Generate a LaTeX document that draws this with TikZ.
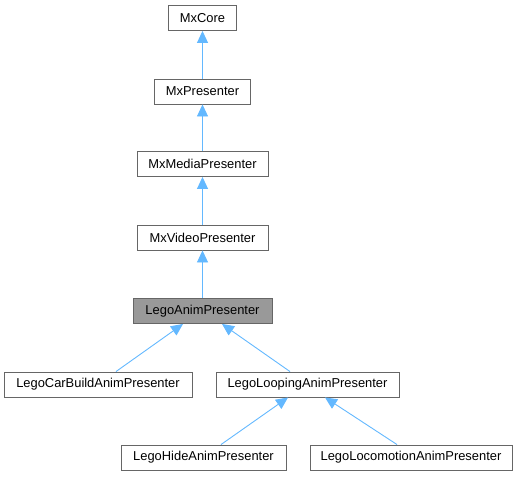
\documentclass[tikz,border=0pt]{standalone}
\usepackage{fontspec}
\setmainfont{Liberation Sans}
\usepackage{xcolor}
\definecolor{edgeblue}{HTML}{63B8FF}
\definecolor{boxline}{HTML}{666666}
\definecolor{curfill}{HTML}{999999}
\usetikzlibrary{arrows.meta}
\tikzset{box/.style={draw=boxline, line width=0.9pt, fill=white, minimum height=25pt,
   inner sep=0pt, font=\fontsize{12.9}{14}\selectfont},
 current/.style={fill=curfill},
 edge/.style={draw=edgeblue, line width=0.9pt, -{Triangle[length=12pt, width=11pt]}},
 }

\begin{document}
\begin{tikzpicture}[x=1pt, y=-1pt]
        \useasboundingbox (0, 0) rectangle (521, 476);

        % base classes
        \node[box, minimum width=68pt] (core) at (202.5, 18) {MxCore};
        \node[box, minimum width=96pt] (presenter) at (202.5, 91.5) {MxPresenter};
        \node[box, minimum width=131pt] (media) at (202.5, 164) {MxMediaPresenter};
        \node[box, minimum width=131pt] (video) at (202.5, 237.5) {MxVideoPresenter};
        \node[box, current, minimum width=139pt] (anim) at (202.5, 311) {LegoAnimPresenter};

        % derived classes
        \node[box, minimum width=188pt] (carbuild) at (98, 384.5) {LegoCarBuildAnimPresenter};
        \node[box, minimum width=183pt] (looping) at (307.5, 384.5) {LegoLoopingAnimPresenter};
        \node[box, minimum width=165pt] (hide) at (203.5, 457.5) {LegoHideAnimPresenter};
        \node[box, minimum width=202pt] (locomotion) at (411, 457.5) {LegoLocomotionAnimPresenter};

        \foreach \c/\p in {presenter/core, media/presenter, video/media, anim/video} {
            \draw[edge] (\c.north) -- (\p.south);
        }
        \draw[edge] ([xshift=18pt]carbuild.north) -- ([xshift=-19.5pt]anim.south);
        \draw[edge] ([xshift=-17.5pt]looping.north) -- ([xshift=19.5pt]anim.south);
        \draw[edge] ([xshift=17.5pt]hide.north) -- ([xshift=-19.5pt]looping.south);
        \draw[edge] ([xshift=-14pt]locomotion.north) -- ([xshift=17.5pt]looping.south);
    \end{tikzpicture}
\end{document}
